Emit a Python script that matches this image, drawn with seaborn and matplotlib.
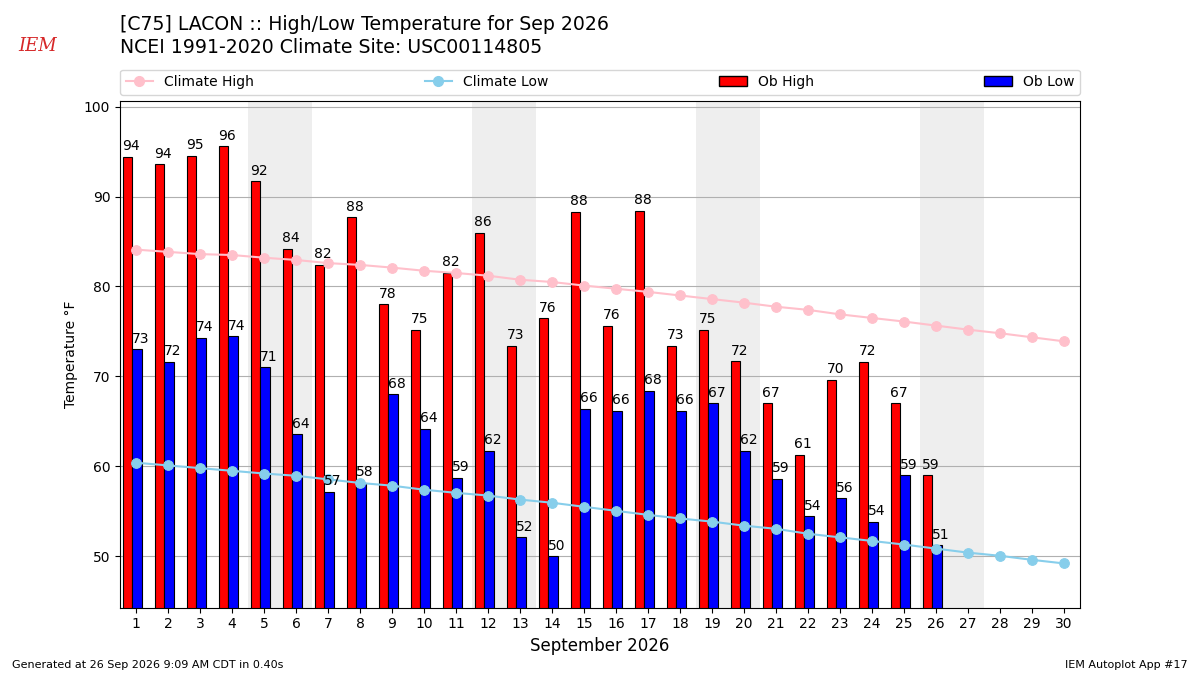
import numpy as np
import pandas as pd
import seaborn as sns
import matplotlib
matplotlib.use("Agg")
import matplotlib.pyplot as plt
from matplotlib.lines import Line2D
from matplotlib.patches import Patch

ob_days = np.arange(1, 27)
ob_high = [94.4, 93.6, 94.55, 95.6, 91.7, 84.2, 82.4, 87.7, 78.0, 75.2, 81.5, 86.0, 73.4,
           76.45, 88.3, 75.6, 88.4, 73.4, 75.2, 71.7, 67.0, 61.3, 69.6, 71.6, 67.0, 59.0]
ob_low = [73.0, 71.6, 74.3, 74.45, 71.0, 63.55, 57.2, 58.2, 68.0, 64.2, 58.7, 61.7, 52.1,
          50.0, 66.4, 66.2, 68.4, 66.2, 67.0, 61.7, 58.6, 54.45, 56.45, 53.85, 59.0, 51.2]

# climatology (Sep 1 - 30)
clim_days = np.arange(1, 31)
clim_high = [84.1, 83.85, 83.6, 83.5, 83.2, 82.95, 82.6, 82.4, 82.1, 81.75, 81.5, 81.2, 80.75,
             80.5, 80.1, 79.75, 79.4, 79.0, 78.6, 78.2, 77.75, 77.4, 76.9, 76.5, 76.1, 75.65,
             75.2, 74.8, 74.35, 73.9]
clim_low = [60.4, 60.1, 59.8, 59.5, 59.2, 58.95, 58.55, 58.15, 57.85, 57.4, 57.05, 56.75, 56.3,
            55.95, 55.5, 55.05, 54.6, 54.2, 53.85, 53.4, 53.05, 52.5, 52.1, 51.7, 51.3, 50.85,
            50.4, 50.05, 49.6, 49.2]

weekends = [5, 12, 19, 26]


def lbl(v):
    return str(int(np.floor(v + 0.5)))


fig = plt.figure(figsize=(12, 6.75), dpi=100)
ax = fig.add_axes([0.1, 0.1, 0.8, 0.75])

for d in weekends:
    ax.axvspan(d - 0.5, d + 1.5, color="#eeeeee", zorder=0, lw=0)

sns.barplot(x=ob_days - 0.26, y=ob_high, native_scale=True, width=0.3, color="red",
            saturation=1, edgecolor="black", linewidth=0.8, errorbar=None, ax=ax, zorder=2)
sns.barplot(x=ob_days + 0.04, y=ob_low, native_scale=True, width=0.3, color="blue",
            saturation=1, edgecolor="black", linewidth=0.8, errorbar=None, ax=ax, zorder=2)

for d, v in zip(ob_days, ob_high):
    ax.text(d - 0.15, v + 0.4, lbl(v), ha="center", va="bottom", fontsize=10, zorder=5)
for d, v in zip(ob_days, ob_low):
    ax.text(d + 0.14, v + 0.4, lbl(v), ha="center", va="bottom", fontsize=10, zorder=5)

clim = pd.DataFrame({"day": clim_days, "high": clim_high, "low": clim_low})
sns.lineplot(data=clim, x="day", y="high", color="pink", marker="o", markersize=7,
             markeredgecolor="pink", ax=ax, zorder=4)
sns.lineplot(data=clim, x="day", y="low", color="skyblue", marker="o", markersize=7,
             markeredgecolor="skyblue", ax=ax, zorder=4)

ax.set_xlim(0.5, 30.5)
ax.set_ylim(44.3, 100.6)
ax.set_xticks(clim_days)
ax.set_xticklabels([str(d) for d in clim_days], fontsize=10)
ax.tick_params(axis="y", labelsize=10)
ax.set_axisbelow(True)
ax.yaxis.grid(True, color="#b0b0b0", lw=0.8)
ax.xaxis.grid(False)
ax.set_xlabel("September 2026", fontsize=12)
ax.set_ylabel("Temperature °F", fontsize=10)

handles = [
    Line2D([], [], color="pink", marker="o", markersize=7),
    Line2D([], [], color="skyblue", marker="o", markersize=7),
    Patch(facecolor="red", edgecolor="black"),
    Patch(facecolor="blue", edgecolor="black"),
]
labels = ["Climate High", "Climate Low", "Ob High", "Ob Low"]
ax.legend(handles, labels, loc="lower left", bbox_to_anchor=(0, 1.013, 1, 0.05),
          ncol=4, mode="expand", borderaxespad=0, fontsize=10)

fig.text(0.1, 0.964, "[C75] LACON :: High/Low Temperature for Sep 2026",
         fontsize=13.6, va="center", ha="left")
fig.text(0.1, 0.929, "NCEI 1991-2020 Climate Site: USC00114805",
         fontsize=13.6, va="center", ha="left")
fig.text(0.031, 0.925, "IEM", color="#d62728", fontsize=13, family="serif",
         style="italic", ha="center")
fig.text(0.01, 0.01, "Generated at 26 Sep 2026 9:09 AM CDT in 0.40s", fontsize=8)
fig.text(0.99, 0.01, "IEM Autoplot App #17", fontsize=8, ha="right")

fig.savefig("out.png", dpi=100)
